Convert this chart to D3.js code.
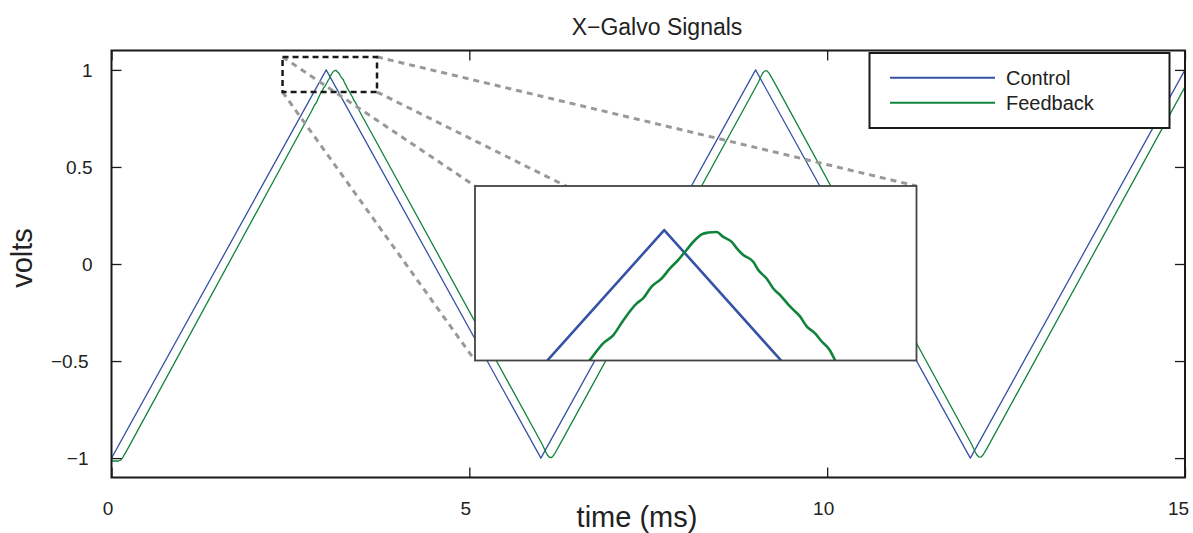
<!DOCTYPE html>
<html>
<head>
<meta charset="utf-8">
<script src="https://cdn.jsdelivr.net/npm/d3@7"></script>
<style>
  html, body { margin: 0; padding: 0; background: #fff; }
  svg { display: block; font-family: "Liberation Sans", Arial, Helvetica, sans-serif; }
</style>
</head>
<body>
<svg id="chart" width="1193" height="533"></svg>
<script>
// Galvo drive signal (triangle wave), time in ms, amplitude in volts
const controlTime = [0, 3, 6, 9, 12, 15];
const controlVolts = [-1, 1, -1, 1, -1, 1];

// Measured galvo position feedback (lags the drive slightly, rounded turns)
const feedbackTime = [
  0, 0.10, 0.13, 0.16, 0.19, 0.23,
  2.800, 2.836, 2.863, 2.890, 2.926, 2.943, 2.966, 2.993, 3.015, 3.038, 3.060,
  3.083, 3.101, 3.119, 3.141, 3.159, 3.182, 3.195, 3.213, 3.240, 3.253, 3.276,
  3.294, 3.316, 3.339, 3.366, 3.384, 3.406, 3.424, 3.446, 3.460,
  6.02, 6.06, 6.09, 6.12, 6.15, 6.18, 6.21, 6.25,
  9.03, 9.07, 9.10, 9.13, 9.16, 9.19, 9.22, 9.26,
  12.02, 12.06, 12.09, 12.12, 12.15, 12.18, 12.21, 12.25,
  15
];
const feedbackVolts = [
  -1.015, -1.015, -1.010, -0.995, -0.976, -0.950,
  0.791, 0.818, 0.831, 0.855, 0.882, 0.890, 0.909, 0.922, 0.938, 0.952, 0.968,
  0.984, 0.993, 0.996, 0.997, 0.989, 0.981, 0.971, 0.960, 0.949, 0.936, 0.922,
  0.906, 0.893, 0.877, 0.861, 0.845, 0.834, 0.821, 0.807, 0.791,
  -0.930, -0.962, -0.984, -0.996, -0.997, -0.985, -0.966, -0.940,
  0.930, 0.962, 0.984, 0.995, 0.995, 0.982, 0.963, 0.937,
  -0.930, -0.962, -0.983, -0.994, -0.995, -0.983, -0.964, -0.938,
  0.913
];

const xTicks = [0, 5, 10, 15];
const xTickLabels = ["0", "5", "10", "15"];
const yTicks = [-1, -0.5, 0, 0.5, 1];
const yTickLabels = ["\u22121", "\u22120.5", "0", "0.5", "1"];

const seriesNames = ["Control", "Feedback"];
const seriesColors = ["#3653a5", "#11843c"];

// Zoomed window near the first peak
const zoomBoxTime = [2.39, 3.71];
const zoomBoxVolts = [0.886, 1.067];
const insetTime = [2.49, 3.68];
const insetVolts = [0.79, 1.071];

const control = controlTime.map((t, i) => ({ t, v: controlVolts[i] }));
const feedback = feedbackTime.map((t, i) => ({ t, v: feedbackVolts[i] }));

const svg = d3.select("#chart");
const plot = { left: 111.5, right: 1185, top: 50.5, bottom: 477.5 };

const x = d3.scaleLinear().domain([0, 15]).range([plot.left, plot.right]);
const y = d3.scaleLinear().domain([-1.1, 1.1]).range([plot.bottom, plot.top]);

const defs = svg.append("defs");
defs.append("clipPath").attr("id", "plotClip")
  .append("rect")
  .attr("x", plot.left).attr("y", plot.top)
  .attr("width", plot.right - plot.left).attr("height", plot.bottom - plot.top);

// Signal traces
const line = (xs, ys) => d3.line().x(d => xs(d.t)).y(d => ys(d.v));
const traces = svg.append("g").attr("clip-path", "url(#plotClip)")
  .attr("fill", "none").attr("stroke-width", 1.3).attr("stroke-linejoin", "round");
traces.append("path").datum(control)
  .attr("d", line(x, y)).attr("stroke", seriesColors[0]);
traces.append("path").datum(feedback)
  .attr("d", line(x, y)).attr("stroke", seriesColors[1]);

// Axes: box with inward ticks on all four sides
const tickLen = 10;
const axisColor = "#1a1a1a";
const axes = svg.append("g");

const bottomAxis = axes.append("g").attr("transform", `translate(0,${plot.bottom})`)
  .call(d3.axisBottom(x).tickValues(xTicks).tickSizeInner(-tickLen).tickSizeOuter(0)
    .tickPadding(tickLen + 14).tickFormat((d, i) => xTickLabels[i]));
axes.append("g").attr("transform", `translate(0,${plot.top})`)
  .call(d3.axisTop(x).tickValues(xTicks).tickSizeInner(-tickLen).tickSizeOuter(0).tickFormat(""));
const leftAxis = axes.append("g").attr("transform", `translate(${plot.left},0)`)
  .call(d3.axisLeft(y).tickValues(yTicks).tickSizeInner(-tickLen).tickSizeOuter(0)
    .tickPadding(tickLen + 9).tickFormat((d, i) => yTickLabels[i]));
axes.append("g").attr("transform", `translate(${plot.right},0)`)
  .call(d3.axisRight(y).tickValues(yTicks).tickSizeInner(-tickLen).tickSizeOuter(0).tickFormat(""));

axes.selectAll(".domain").remove();
axes.selectAll(".tick line").attr("stroke", axisColor).attr("stroke-width", 1.3);
axes.selectAll(".tick text").attr("fill", "#222").style("font-size", "19px")
  .style("font-family", "'Liberation Sans', Arial, sans-serif");
// bottom labels sit a little left of their ticks; negative values a little further out
bottomAxis.selectAll(".tick text")
  .attr("dx", (d, i) => (i === xTicks.length - 1 ? -7 : -4));
leftAxis.selectAll(".tick text")
  .attr("dx", d => (d < 0 ? -4 : 0));

svg.append("rect")
  .attr("x", plot.left).attr("y", plot.top)
  .attr("width", plot.right - plot.left).attr("height", plot.bottom - plot.top)
  .attr("fill", "none").attr("stroke", axisColor).attr("stroke-width", 2);

// Title and axis labels
svg.append("text").attr("x", 657).attr("y", 35)
  .attr("text-anchor", "middle").style("font-size", "23px").attr("fill", "#222")
  .text("X\u2212Galvo Signals");
svg.append("text").attr("x", 637).attr("y", 527)
  .attr("text-anchor", "middle").style("font-size", "29px").attr("fill", "#222")
  .text("time (ms)");
svg.append("text").attr("transform", "translate(32,258) rotate(-90)")
  .attr("text-anchor", "middle").style("font-size", "29px").attr("fill", "#222")
  .text("volts");

// Zoom window marker
const zb = {
  x0: x(zoomBoxTime[0]), x1: x(zoomBoxTime[1]),
  y0: y(zoomBoxVolts[1]), y1: y(zoomBoxVolts[0])
};
const inset = { left: 475, right: 916.5, top: 186, bottom: 360.5 };

const connectors = [
  [zb.x0, zb.y0, inset.left, inset.top],
  [zb.x0, zb.y1, inset.left, inset.bottom],
  [zb.x1, zb.y0, inset.right, inset.top],
  [zb.x1, zb.y1, inset.right, inset.bottom]
];
svg.append("g").selectAll("line").data(connectors).join("line")
  .attr("x1", d => d[0]).attr("y1", d => d[1])
  .attr("x2", d => d[2]).attr("y2", d => d[3])
  .attr("stroke", "#999").attr("stroke-width", 3).attr("stroke-dasharray", "6,5");

svg.append("rect")
  .attr("x", zb.x0).attr("y", zb.y0)
  .attr("width", zb.x1 - zb.x0).attr("height", zb.y1 - zb.y0)
  .attr("fill", "none").attr("stroke", "#1a1a1a").attr("stroke-width", 2.5)
  .attr("stroke-dasharray", "6,4");

// Inset: magnified view of the first peak
const ix = d3.scaleLinear().domain(insetTime).range([inset.left, inset.right]);
const iy = d3.scaleLinear().domain(insetVolts).range([inset.bottom, inset.top]);

defs.append("clipPath").attr("id", "insetClip")
  .append("rect")
  .attr("x", inset.left).attr("y", inset.top)
  .attr("width", inset.right - inset.left).attr("height", inset.bottom - inset.top);

svg.append("rect")
  .attr("x", inset.left).attr("y", inset.top)
  .attr("width", inset.right - inset.left).attr("height", inset.bottom - inset.top)
  .attr("fill", "#fff");

const insetG = svg.append("g").attr("clip-path", "url(#insetClip)")
  .attr("fill", "none").attr("stroke-width", 2.6).attr("stroke-linejoin", "round");
insetG.append("path").datum(control)
  .attr("d", line(ix, iy)).attr("stroke", seriesColors[0]);
insetG.append("path").datum(feedback)
  .attr("d", line(ix, iy).curve(d3.curveMonotoneX)).attr("stroke", seriesColors[1]);

svg.append("rect")
  .attr("x", inset.left).attr("y", inset.top)
  .attr("width", inset.right - inset.left).attr("height", inset.bottom - inset.top)
  .attr("fill", "none").attr("stroke", "#444").attr("stroke-width", 1.8);

// Legend
const legend = svg.append("g");
legend.append("rect")
  .attr("x", 869.5).attr("y", 53).attr("width", 300).attr("height", 75)
  .attr("fill", "#fff").attr("stroke", "#1a1a1a").attr("stroke-width", 2);
const items = legend.selectAll("g.item").data(seriesNames).join("g")
  .attr("class", "item")
  .attr("transform", (d, i) => `translate(0,${77.7 + i * 25})`);
items.append("line")
  .attr("x1", 890).attr("x2", 995)
  .attr("stroke", (d, i) => seriesColors[i]).attr("stroke-width", 2);
items.append("text")
  .attr("x", 1006).attr("y", 0).attr("dy", "0.35em")
  .style("font-size", "20px").attr("fill", "#222")
  .text(d => d);
</script>
</body>
</html>
